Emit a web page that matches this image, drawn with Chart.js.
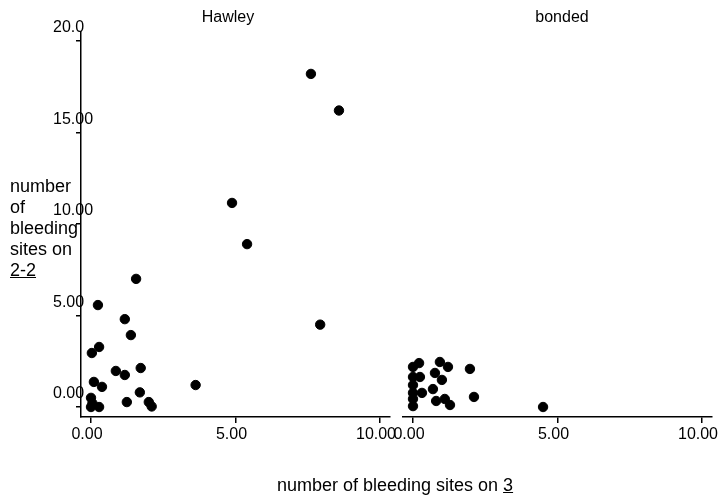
<!DOCTYPE html>
<html>
<head>
<meta charset="utf-8">
<script src="https://cdn.jsdelivr.net/npm/chart.js@4/dist/chart.umd.min.js"></script>
<style>
  body { margin: 0; background: #fff; }
  #wrap { position: relative; width: 718px; height: 501px; overflow: hidden; font-family: "Liberation Sans", Arial, sans-serif; color: #000; }
  canvas { position: absolute; left: 0; top: 0; }
  #ytitle { position: absolute; left: 10px; top: 176px; font-size: 18px; line-height: 21px; }
  #xtitle { position: absolute; left: 195px; width: 400px; top: 475px; text-align: center; font-size: 18px; line-height: 20px; }
</style>
</head>
<body>
<div id="wrap">
  <canvas id="left" width="760" height="501"></canvas>
  <canvas id="right" width="760" height="501"></canvas>
  <div id="ytitle">number<br>of<br>bleeding<br>sites on<br><u>2-2</u></div>
  <div id="xtitle">number of bleeding sites on <u>3</u></div>
</div>
<script>
// panel names
const panels = ['Hawley', 'bonded'];

// Hawley group
const hawleyX = [7.61, 8.58, 4.88, 5.40, 1.56, 0.24, 1.17, 1.38, 0.28, 0.03, 0.86, 1.17, 1.72, 0.10, 0.38, 1.69, 0.00, 0.00, 0.05, 0.28, 1.24, 2.00, 2.10, 3.62, 7.93];
const hawleyY = [18.2, 16.2, 11.15, 8.9, 7.0, 5.57, 4.8, 3.93, 3.28, 2.95, 1.97, 1.75, 2.13, 1.37, 1.10, 0.80, 0.50, 0.00, 0.20, 0.00, 0.27, 0.27, 0.03, 1.20, 4.50];

// bonded group
const bondedX = [0.00, 0.21, 0.00, 0.24, 0.00, 0.00, 0.31, 0.00, 0.00, 0.93, 1.21, 0.76, 1.00, 0.69, 0.80, 1.10, 1.28, 1.97, 2.11, 4.50];
const bondedY = [2.19, 2.40, 1.64, 1.64, 1.20, 0.77, 0.77, 0.44, 0.05, 2.46, 2.19, 1.86, 1.48, 0.98, 0.33, 0.44, 0.11, 2.08, 0.55, 0.00];

// axis ticks
const xTicks = [0, 5, 10];
const yTicks = [0, 5, 10, 15, 20];

Chart.defaults.font.family = '"Liberation Sans", Arial, sans-serif';
Chart.defaults.font.size = 16;
Chart.defaults.color = '#000';

function toPoints(xs, ys) {
  return xs.map((x, i) => ({ x: x, y: ys[i] }));
}

// draws the group name above each panel
const panelTitle = {
  id: 'panelTitle',
  afterDraw(chart, args, opts) {
    const ctx = chart.ctx;
    ctx.save();
    ctx.font = '16px "Liberation Sans", Arial, sans-serif';
    ctx.fillStyle = '#000';
    ctx.textAlign = 'center';
    ctx.textBaseline = 'middle';
    ctx.fillText(opts.text, opts.x, 18);
    ctx.restore();
  }
};

function makeChart(id, name, xs, ys, showY, pad, titleX) {
  return new Chart(document.getElementById(id), {
    type: 'scatter',
    data: {
      datasets: [{
        label: name,
        data: toPoints(xs, ys),
        backgroundColor: '#000',
        borderColor: '#000',
        pointRadius: 4.7,
        pointHoverRadius: 4.7
      }]
    },
    options: {
      responsive: false,
      animation: false,
      layout: { padding: pad },
      plugins: {
        legend: { display: false },
        tooltip: { enabled: false },
        panelTitle: { text: name, x: titleX }
      },
      scales: {
        x: {
          type: 'linear',
          min: -0.346,
          max: 10.346,
          afterFit: s => { s.height = 84; },
          afterBuildTicks: s => { s.ticks = xTicks.map(v => ({ value: v })); },
          border: { display: true, color: '#000', width: 1.5 },
          grid: { drawOnChartArea: false, color: '#000', tickLength: 6, lineWidth: 1.5 },
          ticks: { padding: 2, labelOffset: -4, maxRotation: 0, callback: v => v.toFixed(2) }
        },
        y: {
          type: 'linear',
          display: showY,
          min: -0.546,
          max: 20.49,
          afterFit: s => { if (showY) s.width = 28; },
          afterBuildTicks: s => { s.ticks = yTicks.map(v => ({ value: v })); },
          border: { display: true, color: '#000', width: 1.5 },
          grid: { drawOnChartArea: false, color: '#000', tickLength: 5, lineWidth: 1.5 },
          ticks: {
            mirror: true,
            padding: -28,
            labelOffset: -13,
            callback: v => v === 20 ? '20.0' : v.toFixed(2)
          }
        }
      }
    },
    plugins: [panelTitle]
  });
}

makeChart('left', panels[0], hawleyX, hawleyY, true,
  { left: 53, right: 370, top: 32, bottom: 0 }, 228);
makeChart('right', panels[1], bondedX, bondedY, false,
  { left: 403, right: 48, top: 32, bottom: 0 }, 562);
</script>
</body>
</html>
